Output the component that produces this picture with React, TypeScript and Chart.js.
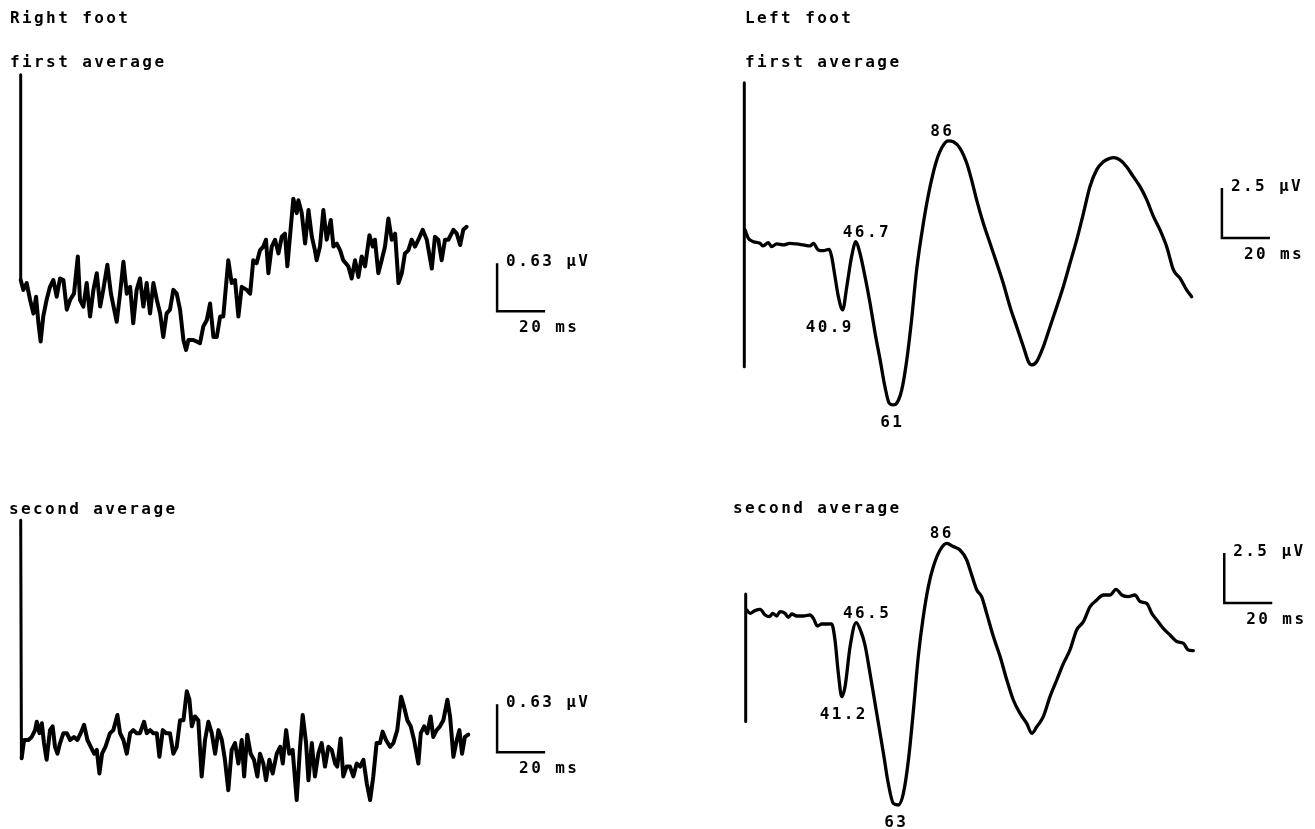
import React, { useEffect, useRef } from "react";
import { Chart, registerables } from "chart.js";

Chart.register(...registerables);

const PAGE_W = 1315;
const PAGE_H = 829;
const FONT = 'bold 16px "DejaVu Sans Mono", "Liberation Mono", monospace';
const LETTER_SPACING = "2.4px";

// ---------- Right foot, first average (time in ms, amplitude in µV) ----------
const RF1_TIME_MS = [
  0, 1.1, 2.5, 3.9, 5.3, 6.4, 7.4, 8.3, 9.4, 10.8,
  12.2, 13.6, 15.0, 16.4, 17.8, 19.2, 20.6, 22.2, 23.8, 24.7,
  26.1, 27.5, 28.9, 30.3, 31.7, 33.1, 34.4, 36.1, 37.6, 40.0,
  41.4, 42.8, 44.2, 45.6, 46.9, 48.3, 49.7, 51.1, 52.5, 53.9,
  55.3, 56.7, 58.1, 59.4, 60.8, 62.2, 63.6, 65.0, 66.4, 67.8,
  68.9, 69.9, 71.9, 74.7, 76.1, 77.5, 78.9, 80.3, 81.7, 83.1,
  84.4, 86.5, 87.9, 89.3, 90.7, 92.1, 94.2, 95.6, 96.9, 98.3,
  99.7, 101.1, 102.2, 103.2, 104.6, 106.0, 107.4, 108.8, 110.1, 111.1,
  112.2, 113.6, 115.0, 115.7, 117.1, 118.5, 119.9, 121.3, 122.6, 123.3,
  124.7, 126.1, 127.5, 129.2, 130.3, 131.7, 133.1, 134.4, 136.5, 137.9,
  139.3, 140.7, 142.1, 143.5, 145.3, 146.7, 147.6, 149.0, 150.4, 151.8,
  153.2, 154.6, 156.0, 157.4, 158.8, 160.1, 161.5, 162.9, 164.3, 165.7,
  167.5, 169.2, 171.3, 172.6, 174.0, 175.4, 176.8, 178.2, 180.3, 181.7,
  183.1, 184.4, 185.8,
];
const RF1_UV = [
  0, -0.13, -0.04, -0.26, -0.44, -0.22, -0.57, -0.81, -0.48, -0.26,
  -0.09, 0, -0.22, 0.02, 0, -0.39, -0.26, -0.18, 0.31, -0.26,
  -0.35, -0.04, -0.48, -0.13, 0.09, -0.35, -0.13, 0.2, -0.18, -0.55,
  -0.18, 0.24, -0.18, -0.09, -0.57, -0.13, 0.02, -0.35, -0.04, -0.44,
  -0.04, -0.26, -0.44, -0.75, -0.44, -0.39, -0.13, -0.18, -0.39, -0.79,
  -0.92, -0.79, -0.79, -0.83, -0.61, -0.53, -0.31, -0.75, -0.75, -0.48,
  -0.48, 0.26, -0.04, 0, -0.48, -0.09, -0.13, -0.18, 0.26, 0.22,
  0.39, 0.44, 0.53, 0.09, 0.44, 0.53, 0.35, 0.57, 0.61, 0.18,
  0.57, 1.07, 0.88, 1.05, 0.88, 0.48, 0.92, 0.57, 0.39, 0.26,
  0.44, 0.92, 0.53, 0.79, 0.44, 0.48, 0.39, 0.26, 0.18, 0.02,
  0.26, 0.04, 0.31, 0.18, 0.59, 0.44, 0.53, 0.09, 0.26, 0.44,
  0.81, 0.53, 0.61, -0.04, 0.09, 0.35, 0.39, 0.53, 0.44, 0.53,
  0.66, 0.53, 0.15, 0.57, 0.53, 0.26, 0.53, 0.53, 0.66, 0.61,
  0.46, 0.66, 0.7,
];
const RF1_STIM_UV = [2.7, 0];

// ---------- Right foot, second average ----------
const RF2_TIME_MS = [
  0.4, 1.4, 3.2, 4.6, 6.0, 6.7, 7.8, 8.8, 9.7, 10.8,
  12.2, 13.3, 14.3, 15.3, 16.4, 17.8, 19.2, 20.6, 22.2, 23.6,
  25.0, 26.4, 27.8, 29.2, 30.6, 31.7, 32.8, 33.9, 35.3, 37.2,
  38.6, 40.3, 41.4, 42.8, 44.2, 45.6, 46.9, 48.3, 49.7, 51.4,
  52.5, 53.9, 55.3, 56.7, 57.8, 59.2, 60.6, 62.2, 63.6, 65.0,
  66.4, 67.8, 69.2, 70.3, 71.3, 72.6, 74.0, 75.4, 76.8, 78.2,
  79.6, 81.0, 82.4, 83.8, 85.1, 86.5, 87.9, 89.3, 90.7, 92.1,
  93.1, 94.4, 95.8, 97.2, 98.6, 99.7, 101.1, 102.2, 103.6, 105.0,
  106.7, 108.1, 109.2, 110.6, 111.9, 113.3, 115.0, 116.4, 117.5, 118.9,
  119.9, 121.3, 122.6, 124.0, 125.4, 126.8, 128.2, 129.6, 131.0, 131.9,
  133.3, 134.4, 135.8, 137.2, 138.6, 140.0, 141.4, 142.8, 144.2, 145.6,
  146.9, 148.3, 149.7, 150.8, 152.2, 153.9, 155.3, 156.9, 158.5, 159.7,
  161.1, 162.5, 163.9, 165.7, 166.7, 168.1, 169.4, 170.8, 171.9, 173.3,
  174.7, 176.1, 177.8, 178.9, 180.3, 181.7, 182.8, 183.9, 185.1, 186.5,
];
const RF2_UV = [
  -0.24, 0, 0, 0.04, 0.13, 0.24, 0.09, 0.22, -0.04, -0.26,
  0.13, 0.18, -0.09, -0.18, -0.04, 0.09, 0.09, 0, 0.04, 0,
  0.09, 0.2, 0, -0.09, -0.18, -0.13, -0.44, -0.18, -0.09, 0.09,
  0.13, 0.33, 0.09, 0, -0.18, 0.09, 0.13, 0.09, 0.09, 0.24,
  0.09, 0.13, 0.09, 0.09, -0.22, 0.13, 0.09, 0.09, -0.18, -0.09,
  0.26, 0.26, 0.64, 0.53, 0.18, 0.31, 0.26, -0.48, 0, 0.24,
  0.09, -0.18, 0.13, 0, -0.26, -0.66, -0.13, -0.04, -0.31, 0,
  -0.48, 0.07, -0.18, -0.26, -0.48, -0.18, -0.31, -0.53, -0.26, -0.44,
  -0.18, -0.09, -0.31, 0.13, -0.18, -0.13, -0.79, -0.09, 0.33, -0.04,
  -0.53, -0.04, -0.48, -0.18, -0.04, -0.35, -0.09, -0.13, -0.31, -0.35,
  0.02, -0.48, -0.35, -0.35, -0.48, -0.31, -0.35, -0.26, -0.57, -0.79,
  -0.48, -0.04, -0.04, 0.11, 0, -0.09, -0.04, 0.13, 0.57, 0.44,
  0.26, 0.18, 0, -0.31, 0.09, 0.18, 0.09, 0.31, 0.04, 0.13,
  0.18, 0.26, 0.53, 0.31, -0.22, 0, 0.13, -0.18, 0.04, 0.07,
];
const RF2_STIM_UV = [2.89, -0.24];

// ---------- Left foot, first average ----------
const LF1_TIME_MS = [
  0.3, 1.7, 3.8, 6.5, 7.9, 10.0, 11.4, 13.5, 16.3, 19.0,
  21.8, 24.6, 27.4, 28.8, 30.8, 32.9, 35.4, 36.4, 37.8, 39.2,
  41.0, 42.7, 44.7, 46.5, 48.2, 50.3, 52.4, 54.5, 56.6, 58.6,
  60.4, 62.1, 63.5, 65.6, 67.7, 69.7, 71.8, 74.6, 77.4, 80.2,
  83.0, 85.0, 87.1, 89.9, 92.7, 94.7, 96.8, 99.6, 102.4, 105.2,
  107.9, 110.7, 113.5, 116.3, 118.4, 119.7, 121.8, 124.6, 127.4, 130.2,
  132.9, 135.7, 138.5, 141.3, 144.0, 146.8, 149.6, 152.4, 153.8, 156.5,
  159.3, 162.1, 164.9, 167.7, 170.5, 173.2, 176.0, 178.8, 181.6, 184.3,
  186.4,
];
const LF1_UV = [
  0.67, 0.25, 0.08, 0, -0.13, 0.03, -0.17, -0.03, -0.08, 0,
  -0.03, -0.08, -0.13, 0, -0.33, -0.37, -0.3, -0.67, -1.67, -2.67,
  -3.33, -2.17, -0.67, 0.08, -0.5, -1.67, -3.0, -4.5, -5.83, -7.17,
  -8.0, -8.08, -8.0, -7.33, -5.83, -3.83, -1.33, 1.0, 2.83, 4.17,
  4.92, 5.12, 5.08, 4.75, 4.0, 3.17, 2.17, 1.0, 0, -1.0,
  -2.0, -3.17, -4.17, -5.17, -5.92, -6.08, -5.92, -5.17, -4.17, -3.17,
  -2.17, -1.0, 0.17, 1.5, 2.83, 3.67, 4.08, 4.25, 4.28, 4.17,
  3.83, 3.33, 2.83, 2.17, 1.33, 0.67, -0.17, -1.33, -1.75, -2.33,
  -2.67,
];
const LF1_STIM_UV = [8.03, -6.17];
const LF1_PEAK_LABELS = ["40.9", "46.7", "61", "86"];
const LF1_PEAK_KIND = ["min", "max", "min", "max"];

// ---------- Left foot, second average ----------
const LF2_TIME_MS = [
  0.4, 1.8, 3.9, 6.0, 8.1, 9.9, 11.3, 12.9, 14.3, 16.4,
  17.8, 19.2, 21.3, 24.0, 26.8, 28.2, 29.9, 31.7, 33.8, 35.8,
  37.2, 38.6, 40.0, 41.4, 43.5, 46.0, 48.3, 49.7, 51.8, 54.6,
  57.4, 59.4, 61.5, 63.6, 65.7, 67.8, 69.9, 71.9, 74.0, 76.1,
  78.2, 81.0, 83.8, 86.5, 89.3, 92.1, 93.5, 96.3, 98.3, 100.4,
  103.2, 106.0, 108.8, 111.5, 114.3, 117.1, 119.2, 121.3, 124.0, 126.8,
  129.6, 132.4, 135.1, 137.9, 140.7, 143.5, 146.3, 149.0, 151.8, 154.3,
  156.7, 159.4, 162.2, 164.3, 167.1, 169.2, 171.3, 174.0, 176.8, 179.6,
  182.4, 184.4, 186.5,
];
const LF2_UV = [
  0.25, 0.08, 0.22, 0.28, 0, -0.08, 0.08, -0.05, 0.17, 0.08,
  -0.12, 0.05, -0.05, -0.05, 0, -0.17, -0.55, -0.45, -0.45, -0.45,
  -1.25, -2.92, -4.08, -3.58, -1.58, -0.38, -0.92, -1.5, -2.92, -4.92,
  -6.92, -8.42, -9.42, -9.5, -8.92, -7.25, -4.75, -2.08, -0.08, 1.42,
  2.42, 3.25, 3.58, 3.42, 3.25, 2.75, 2.25, 1.25, 0.92, 0.08,
  -1.08, -2.08, -3.25, -4.25, -4.92, -5.42, -5.92, -5.58, -5.08, -4.08,
  -3.25, -2.42, -1.75, -0.75, -0.33, 0.42, 0.75, 1.0, 1.0, 1.28,
  1.0, 0.92, 1.0, 0.67, 0.58, 0.08, -0.25, -0.67, -1.0, -1.33,
  -1.42, -1.75, -1.78,
];
const LF2_STIM_UV = [1.05, -5.33];
const LF2_PEAK_LABELS = ["41.2", "46.5", "63", "86"];
const LF2_PEAK_KIND = ["min", "max", "min", "max"];

// ---------- Calibration bars ----------
const SCALE_MS = 20;
const RIGHT_SCALE_UV = 0.63;
const LEFT_SCALE_UV = 2.5;

// ---------- Texts ----------
const TITLE_TEXTS = ["Right foot", "first average", "second average", "Left foot", "first average", "second average"];
const TITLE_POS = [
  [10, 23], [10, 67], [9, 514], [745, 23], [745, 67], [733, 513],
];

type PanelCfg = {
  id: string;
  t: number[];
  v: number[];
  stim: number[];
  scaleUv: number;
  peakLabels?: string[];
  peakKind?: string[];
  peakDx?: number[];
  x0: number;
  y0: number;
  pxMs: number;
  pxUv: number;
  lineWidth: number;
  smooth: boolean;
  barAt: [number, number];
};

const PANELS: PanelCfg[] = [
  {
    id: "rf1", t: RF1_TIME_MS, v: RF1_UV, stim: RF1_STIM_UV, scaleUv: RIGHT_SCALE_UV,
    x0: 20.7, y0: 280, pxMs: 2.4, pxUv: 76, lineWidth: 4, smooth: false, barAt: [198.5, -0.41],
  },
  {
    id: "rf2", t: RF2_TIME_MS, v: RF2_UV, stim: RF2_STIM_UV, scaleUv: RIGHT_SCALE_UV,
    x0: 20.7, y0: 740, pxMs: 2.4, pxUv: 76, lineWidth: 4, smooth: false, barAt: [198.5, -0.16],
  },
  {
    id: "lf1", t: LF1_TIME_MS, v: LF1_UV, stim: LF1_STIM_UV, scaleUv: LEFT_SCALE_UV,
    peakLabels: LF1_PEAK_LABELS, peakKind: LF1_PEAK_KIND, peakDx: [-13, 11, -1, -6],
    x0: 744.3, y0: 243.3, pxMs: 2.4, pxUv: 20, lineWidth: 3.3, smooth: true, barAt: [199, 0.27],
  },
  {
    id: "lf2", t: LF2_TIME_MS, v: LF2_UV, stim: LF2_STIM_UV, scaleUv: LEFT_SCALE_UV,
    peakLabels: LF2_PEAK_LABELS, peakKind: LF2_PEAK_KIND, peakDx: [2, 11, -2, -5],
    x0: 745.7, y0: 615, pxMs: 2.4, pxUv: 20, lineWidth: 3.3, smooth: true, barAt: [199.4, 0.6],
  },
];

const annotatePlugin = {
  id: "annotate",
  afterDatasetsDraw(chart: any) {
    const ctx = chart.ctx as CanvasRenderingContext2D;
    ctx.save();
    ctx.fillStyle = "#000";
    ctx.font = FONT;
    (ctx as any).letterSpacing = LETTER_SPACING;
    ctx.textBaseline = "alphabetic";
    ctx.textAlign = "left";
    TITLE_TEXTS.forEach((txt, i) => ctx.fillText(txt, TITLE_POS[i][0], TITLE_POS[i][1]));

    for (const p of PANELS) {
      const xs = chart.scales["x_" + p.id];
      const ys = chart.scales["y_" + p.id];
      const cx = xs.getPixelForValue(p.barAt[0]);
      const cy = ys.getPixelForValue(p.barAt[1]);
      const top = ys.getPixelForValue(p.barAt[1] + p.scaleUv);
      ctx.textAlign = "left";
      ctx.fillText(`${p.scaleUv} µV`, cx + 9, top + 3);
      ctx.fillText(`${SCALE_MS} ms`, cx + 22, cy + 21);

      if (p.peakLabels && p.peakKind && p.peakDx) {
        ctx.textAlign = "center";
        p.peakLabels.forEach((lab, i) => {
          const lat = parseFloat(lab);
          const isMax = p.peakKind![i] === "max";
          let best = -1;
          for (let k = 0; k < p.t.length; k++) {
            if (Math.abs(p.t[k] - lat) > 4) continue;
            if (best < 0 || (isMax ? p.v[k] > p.v[best] : p.v[k] < p.v[best])) best = k;
          }
          if (best < 0) return;
          const px = xs.getPixelForValue(p.t[best]) + p.peakDx![i];
          const py = ys.getPixelForValue(p.v[best]) + (isMax ? -5 : 22);
          ctx.fillText(lab, px, py);
        });
      }
    }
    ctx.restore();
  },
};

export default function App() {
  const canvasRef = useRef<HTMLCanvasElement | null>(null);

  useEffect(() => {
    if (!canvasRef.current) return;
    const datasets: any[] = [];
    const scales: any = {};
    for (const p of PANELS) {
      const xId = "x_" + p.id;
      const yId = "y_" + p.id;
      scales[xId] = {
        type: "linear", display: false,
        min: -p.x0 / p.pxMs, max: (PAGE_W - p.x0) / p.pxMs,
      };
      scales[yId] = {
        type: "linear", display: false,
        min: (p.y0 - PAGE_H) / p.pxUv, max: p.y0 / p.pxUv,
      };
      const common = {
        xAxisID: xId, yAxisID: yId, borderColor: "#000", backgroundColor: "#000",
        pointRadius: 0, fill: false, clip: false, borderJoinStyle: "round", borderCapStyle: "round",
      };
      datasets.push({
        ...common,
        label: p.id + " trace",
        data: p.t.map((t, i) => ({ x: t, y: p.v[i] })),
        borderWidth: p.lineWidth,
        tension: p.smooth ? 0.3 : 0,
        cubicInterpolationMode: p.smooth ? "monotone" : "default",
      });
      datasets.push({
        ...common,
        label: p.id + " stimulus",
        data: [{ x: 0, y: p.stim[0] }, { x: p.id === "rf2" ? 0.3 : 0, y: p.stim[1] }],
        borderWidth: 3,
      });
      datasets.push({
        ...common,
        label: p.id + " calibration",
        data: [
          { x: p.barAt[0], y: p.barAt[1] + p.scaleUv },
          { x: p.barAt[0], y: p.barAt[1] },
          { x: p.barAt[0] + SCALE_MS, y: p.barAt[1] },
        ],
        borderWidth: 2.5,
        borderJoinStyle: "miter",
        borderCapStyle: "butt",
      });
    }

    const chart = new Chart(canvasRef.current, {
      type: "line",
      data: { datasets },
      options: {
        animation: false,
        responsive: false,
        maintainAspectRatio: false,
        events: [],
        layout: { padding: 0 },
        scales,
        plugins: {
          legend: { display: false },
          tooltip: { enabled: false },
          title: { display: false },
        },
      } as any,
      plugins: [annotatePlugin],
    });
    return () => chart.destroy();
  }, []);

  return (
    <div style={{ position: "absolute", left: 0, top: 0, width: PAGE_W, height: PAGE_H, background: "#fff" }}>
      <canvas
        ref={canvasRef}
        width={PAGE_W}
        height={PAGE_H}
        style={{ display: "block", width: PAGE_W, height: PAGE_H }}
      />
    </div>
  );
}
